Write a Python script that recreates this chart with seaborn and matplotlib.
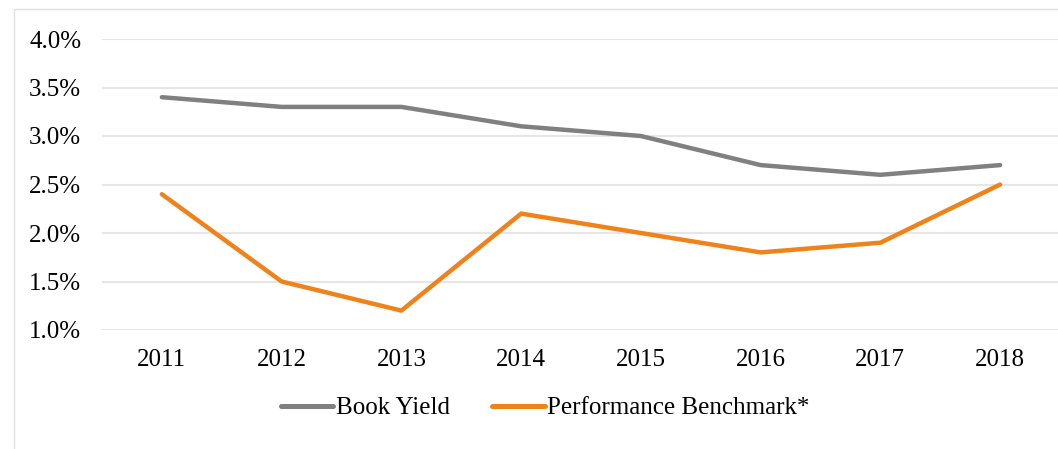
import matplotlib
matplotlib.use("Agg")
import matplotlib.pyplot as plt
from matplotlib.patches import Rectangle
import pandas as pd
import seaborn as sns

years = [2011, 2012, 2013, 2014, 2015, 2016, 2017, 2018]
book_yield = [3.4, 3.3, 3.3, 3.1, 3.0, 2.7, 2.6, 2.7]
benchmark = [2.4, 1.5, 1.2, 2.2, 2.0, 1.8, 1.9, 2.5]
y_ticks = [1.0, 1.5, 2.0, 2.5, 3.0, 3.5, 4.0]

series_names = ["Book Yield", "Performance Benchmark*"]
colors = ["#808080", "#F0821A"]

sns.set_theme(style="white")
plt.rcParams["font.family"] = ["Liberation Serif", "DejaVu Serif"]
plt.rcParams["text.color"] = "black"
plt.rcParams["xtick.color"] = "black"
plt.rcParams["ytick.color"] = "black"

df = pd.DataFrame({
    "pos": list(range(len(years))) * 2,
    "value": book_yield + benchmark,
    "series": [series_names[0]] * len(years) + [series_names[1]] * len(years),
})

fig = plt.figure(figsize=(10.58, 4.49), dpi=100)
# outer chart frame (runs off the right and bottom edges)
fig.patches.append(Rectangle((13.5 / 1058, -0.1), 1.2, 1.1 - 8.5 / 449,
                             transform=fig.transFigure, fill=False,
                             edgecolor="#e0e0e0", linewidth=1.0))

ax = fig.add_axes([102 / 1058, 1 - 330 / 449, 958 / 1058, 291 / 449])
sns.lineplot(data=df, x="pos", y="value", hue="series", palette=colors,
             linewidth=3.2, ax=ax, legend=False)

ax.set_xlim(-0.5, len(years) - 0.5)
ax.set_ylim(1.0, 4.0)
ax.set_yticks(y_ticks)
ax.set_yticklabels([f"{v:.1f}%" for v in y_ticks])
ax.set_xticks(range(len(years)))
ax.set_xticklabels([str(y) for y in years])
ax.yaxis.grid(True, color="#e6e6e6", linewidth=1.5)
ax.set_axisbelow(True)
for s in ax.spines.values():
    s.set_visible(False)
ax.tick_params(axis="y", length=0, pad=15, labelsize=18)
ax.tick_params(axis="x", length=0, pad=14, labelsize=18)
ax.set_xlabel("")
ax.set_ylabel("")

handles = [plt.Line2D([], [], color=c, linewidth=3.6, solid_capstyle="round")
           for c in colors]
fig.legend(handles, series_names, loc="center", ncol=2, frameon=False,
           bbox_to_anchor=(545 / 1058, 1 - 408 / 449), fontsize=18,
           handlelength=2.1, handletextpad=0.1, columnspacing=1.7)

fig.savefig("out.png", dpi=100)
